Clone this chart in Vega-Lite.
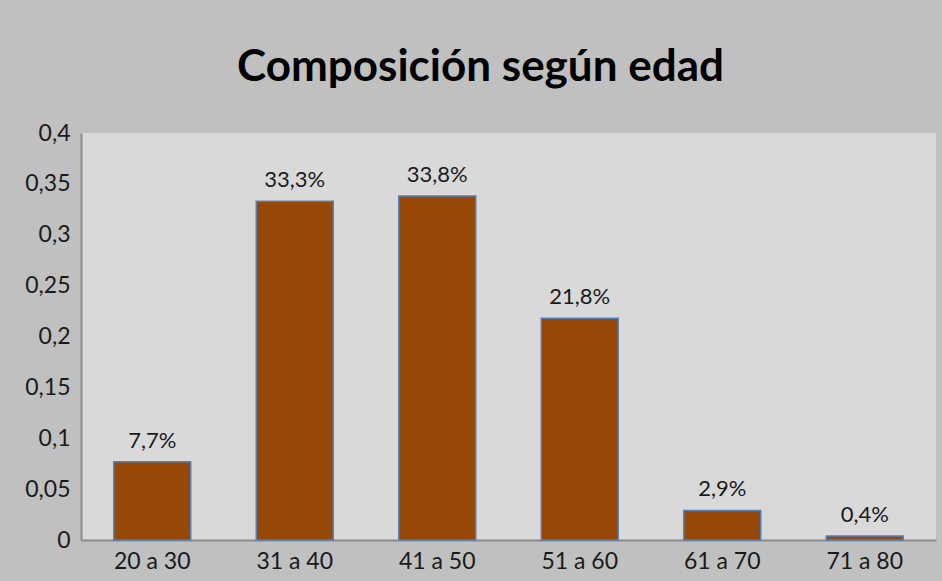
{
  "$schema": "https://vega.github.io/schema/vega-lite/v6.json",
  "autosize": {"type": "none"},
  "width": 855,
  "height": 407,
  "padding": {"left": 81, "top": 133, "right": 6, "bottom": 41},
  "background": "#c0c0c0",
  "title": {
    "text": "Composición según edad",
    "font": "Lato",
    "fontSize": 44,
    "fontWeight": "bold",
    "color": "#000000",
    "anchor": "middle",
    "dx": -28,
    "offset": 32
  },
  "config": {
    "locale": {"number": {"decimal": ",", "thousands": ".", "grouping": [3], "currency": ["", " €"]}},
    "view": {"fill": "#d9d9d9", "stroke": null},
    "axis": {"labelFont": "Lato", "labelFontSize": 23, "labelColor": "#1a1a1a", "domainColor": "#8a8a8a", "domainWidth": 2, "ticks": false, "grid": false, "title": null}
  },
  "data": {
    "values": [
      {"edad": "20 a 30", "valor": 0.077},
      {"edad": "31 a 40", "valor": 0.333},
      {"edad": "41 a 50", "valor": 0.338},
      {"edad": "51 a 60", "valor": 0.218},
      {"edad": "61 a 70", "valor": 0.029},
      {"edad": "71 a 80", "valor": 0.004}
    ]
  },
  "encoding": {
    "x": {
      "field": "edad",
      "type": "nominal",
      "sort": null,
      "scale": {"paddingInner": 0.46, "paddingOuter": 0.23},
      "axis": {"labelAngle": 0, "labelPadding": 10}
    },
    "y": {
      "field": "valor",
      "type": "quantitative",
      "scale": {"domain": [0, 0.4], "nice": false},
      "axis": {"values": [0, 0.05, 0.1, 0.15, 0.2, 0.25, 0.3, 0.35, 0.4], "format": ".2~f", "labelPadding": 11}
    }
  },
  "layer": [
    {"mark": {"type": "bar", "fill": "#974706", "stroke": "#4f81bd", "strokeWidth": 1.5}},
    {
      "mark": {"type": "text", "font": "Lato", "fontSize": 22, "color": "#1a1a1a", "baseline": "alphabetic", "dy": -14},
      "encoding": {"text": {"field": "valor", "type": "quantitative", "format": ".1%"}}
    }
  ]
}
